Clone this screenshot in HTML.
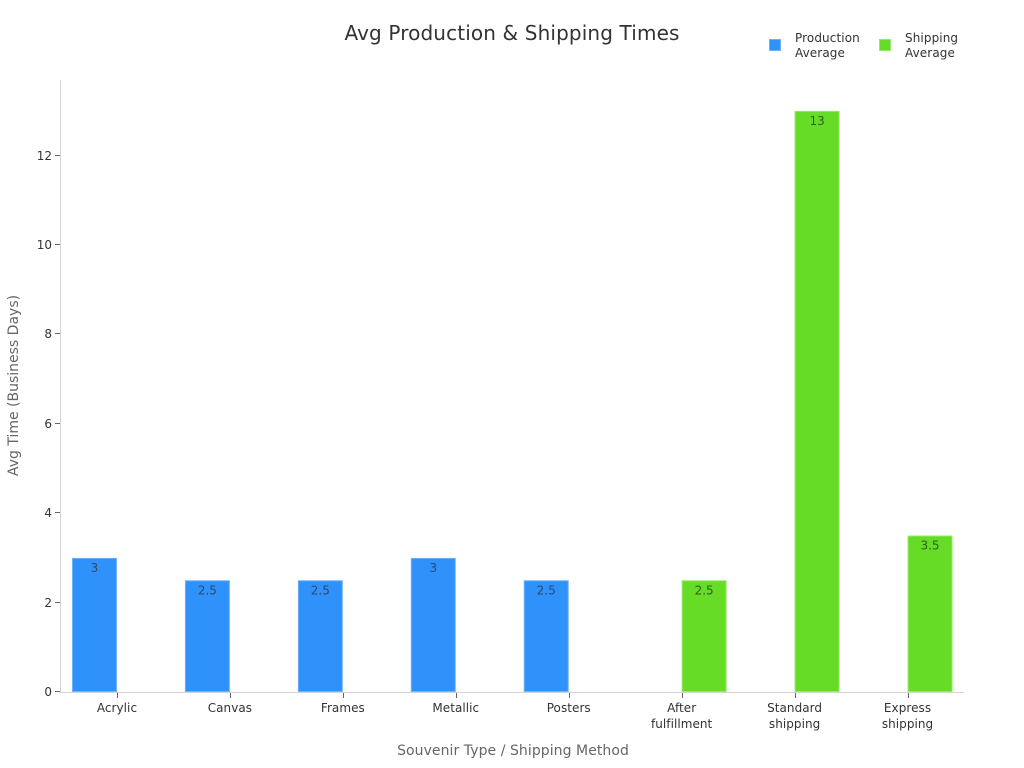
<!DOCTYPE html>
<html>
<head>
<meta charset="utf-8">
<title>Avg Production &amp; Shipping Times</title>
<style>
html,body{margin:0;padding:0;background:#fff;}
svg{display:block;font-family:"DejaVu Sans","Liberation Sans",sans-serif;}
</style>
</head>
<body>
<svg id="chart" xmlns="http://www.w3.org/2000/svg" width="1024" height="768" viewBox="0 0 1024 768">
  <rect width="1024" height="768" fill="#ffffff"/>
  <text x="512" y="40" text-anchor="middle" font-size="20" letter-spacing="0.13" fill="#333333">Avg Production &amp; Shipping Times</text>
  <text transform="translate(18 385.5) rotate(-90)" text-anchor="middle" font-size="14" fill="#666666">Avg Time (Business Days)</text>
  <text x="513" y="755" text-anchor="middle" font-size="14" letter-spacing="0.06" fill="#666666">Souvenir Type / Shipping Method</text>
  <g>
    <g>
      <rect x="769.5" y="39.5" width="11" height="11" fill="#2f91fa" stroke="#6fb4fb" stroke-width="1"/>
      <text font-size="12" letter-spacing="0.1" fill="#333333"><tspan x="795" y="42">Production</tspan><tspan x="795" y="57">Average</tspan></text>
    </g>
    <g>
      <rect x="879.5" y="39.5" width="11" height="11" fill="#66dc27" stroke="#97e86c" stroke-width="1"/>
      <text font-size="12" letter-spacing="0.1" fill="#333333"><tspan x="905" y="42">Shipping</tspan><tspan x="905" y="57">Average</tspan></text>
    </g>
  </g>
  <g id="bars"></g>
  <g id="axes"></g>
  <g id="labels"></g>
</svg>
<script>
const categories = [["Acrylic"],["Canvas"],["Frames"],["Metallic"],["Posters"],["After","fulfillment"],["Standard","shipping"],["Express","shipping"]];
const productionValues = [3,2.5,2.5,3,2.5,null,null,null];
const shippingValues = [null,null,null,null,null,2.5,13,3.5];
const yTicks = [0,2,4,6,8,10,12];

const NS = 'http://www.w3.org/2000/svg';
const plotLeft = 60.5, plotRight = 964, baseY = 692, plotTop = 80;
const unitPx = 44.7, barW = 45;
const band = (plotRight - plotLeft) / categories.length;
function xCenter(i){ return plotLeft + band * (i + 0.5); }
function yScale(v){ return baseY - v * unitPx; }
function mk(tag, attrs, parent){
  const el = document.createElementNS(NS, tag);
  for (const k in attrs) el.setAttribute(k, attrs[k]);
  parent.appendChild(el);
  return el;
}
const barsG = document.getElementById('bars');
const axesG = document.getElementById('axes');
const labelsG = document.getElementById('labels');

function drawSeries(values, offset, fill, stroke, labelFill, seriesName){
  values.forEach(function(v, i){
    if (v === null) return;
    const x = xCenter(i) + offset;
    const top = yScale(v);
    const r = mk('rect', {x: x + 0.5, y: top + 0.5, width: barW - 1, height: baseY - 0.5 - top - 0.5, fill: fill, stroke: stroke, 'stroke-width': 1}, barsG);
    
    
    const t = mk('text', {x: x + barW / 2, y: top + 14, 'text-anchor': 'middle', 'font-size': 12, fill: labelFill}, labelsG);
    
    
    t.textContent = String(v);
  });
}
drawSeries(productionValues, -barW, '#2f91fa', '#6fb4fb', '#2f4a6b', 'production');
drawSeries(shippingValues, 0, '#66dc27', '#97e86c', '#2f5f22', 'shipping');

const yLine = mk('line', {x1: plotLeft, y1: plotTop, x2: plotLeft, y2: baseY, stroke: '#d4d4d4', 'stroke-width': 1}, axesG);


const xLine = mk('line', {x1: 60, y1: baseY + 0.5, x2: plotRight, y2: baseY + 0.5, stroke: '#d4d4d4', 'stroke-width': 1}, axesG);



yTicks.forEach(function(v){
  const y = Math.round(yScale(v)) - 0.5;
  const tick = mk('line', {x1: 55, y1: y, x2: 60, y2: y, stroke: '#666666', 'stroke-width': 1}, axesG);
  
  
  const t = mk('text', {x: 52, y: y + 4.5, 'text-anchor': 'end', 'font-size': 12, fill: '#333333'}, axesG);
  
  
  t.textContent = String(v);
});

categories.forEach(function(lines, i){
  const cx = xCenter(i);
  const x = Math.round(cx) + 0.5;
  const tick = mk('line', {x1: x, y1: 693, x2: x, y2: 698, stroke: '#666666', 'stroke-width': 1}, axesG);
  
  
  const t = mk('text', {'text-anchor': 'middle', 'font-size': 12, 'letter-spacing': 0.05, fill: '#333333'}, axesG);
  
  
  lines.forEach(function(line, j){
    const s = mk('tspan', {x: cx, y: 712 + j * 16}, t);
    s.textContent = line;
  });
});
</script>
</body>
</html>
